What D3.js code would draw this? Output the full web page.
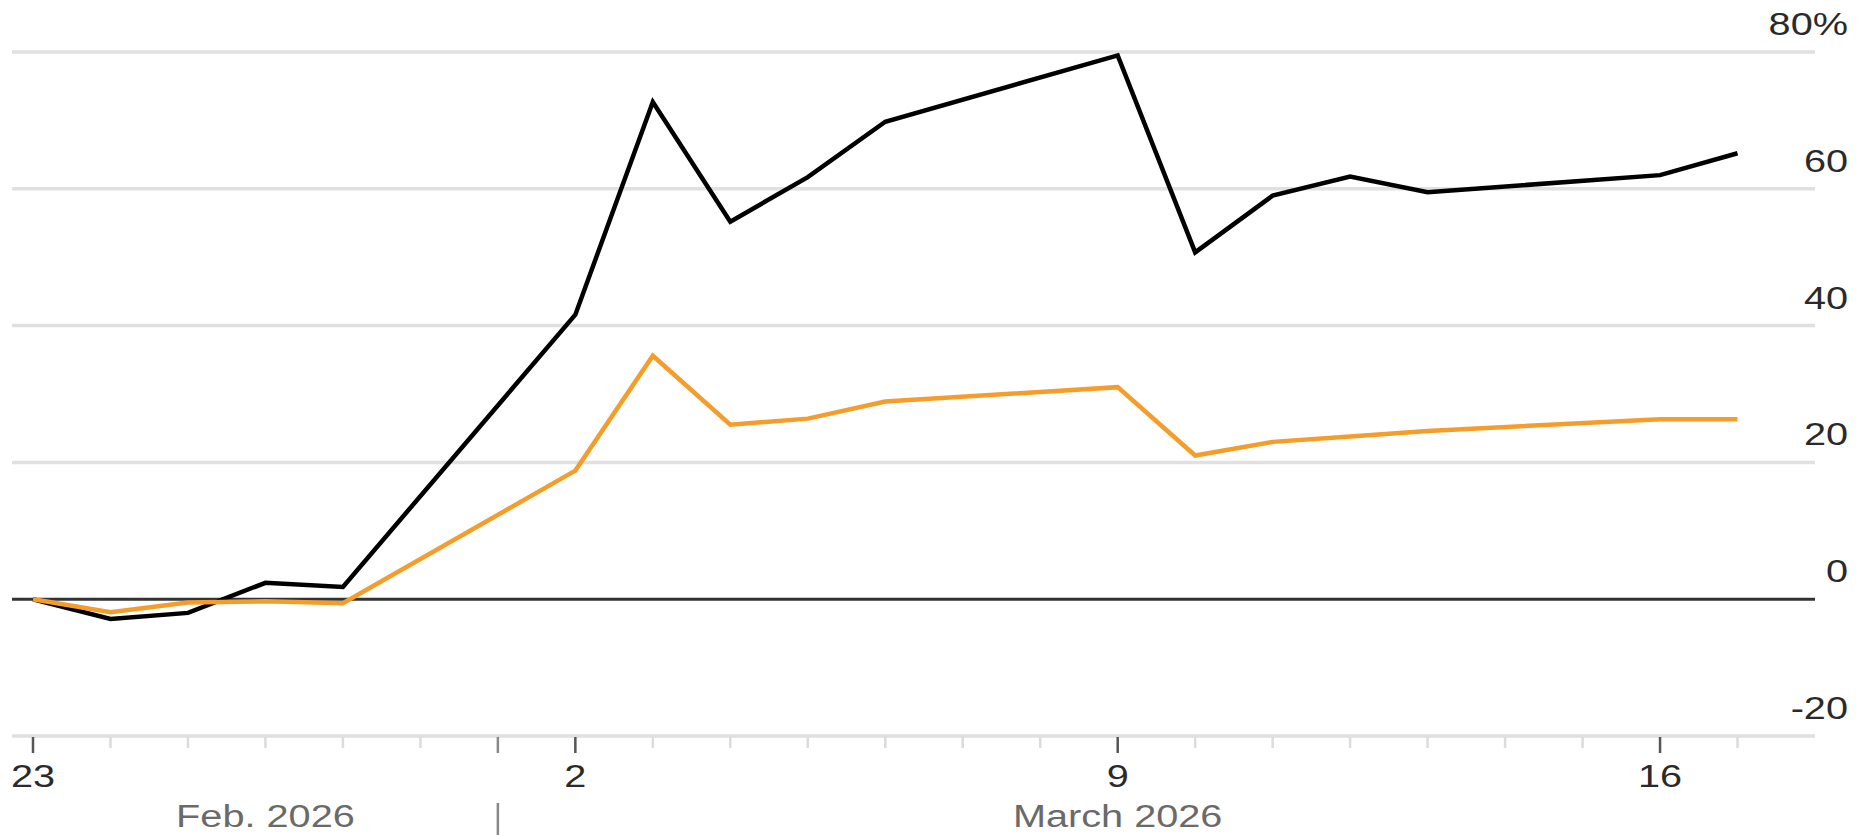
<!DOCTYPE html>
<html><head><meta charset="utf-8">
<script src="https://cdn.jsdelivr.net/npm/d3@7"></script>
<style>
body{margin:0;background:#fff}
svg{display:block}
text{font-family:"Liberation Sans",Arial,Helvetica,sans-serif}
</style>
</head><body>
<svg id="c" width="1863" height="835"></svg>
<script>
// ---- data ----
const dates = ["2026-02-23","2026-02-24","2026-02-25","2026-02-26","2026-02-27",
  "2026-03-02","2026-03-03","2026-03-04","2026-03-05","2026-03-06",
  "2026-03-09","2026-03-10","2026-03-11","2026-03-12","2026-03-13",
  "2026-03-16","2026-03-17"];
const blackSeries  = [0,-2.9,-2.0,2.4,1.8, 41.6,72.7,55.2,61.7,69.8, 79.5,50.7,59.0,61.8,59.5, 62.0,65.2];
const orangeSeries = [0,-1.9,-0.5,-0.3,-0.6, 18.8,35.6,25.5,26.4,28.9, 31.0,21.0,23.0,23.8,24.6, 26.3,26.3];
const yTicks = [-20,0,20,40,60,80];
const yTickLabels = ["-20","0","20","40","60","80%"];
const xMajorTicks = ["2026-02-23","2026-03-02","2026-03-09","2026-03-16"];
const xMajorLabels = ["23","2","9","16"];
const monthLabels = ["Feb. 2026","March 2026"];
const monthStarts = ["2026-02-23","2026-03-01"];
const monthEnds = ["2026-03-01","2026-03-17"];
const monthBoundary = "2026-03-01";
const axisStart = "2026-02-23", axisEnd = "2026-03-18", lastTick = "2026-03-17";

// ---- setup ----
const P = d3.utcParse("%Y-%m-%d");
const SX = 1.28; // horizontal stretch of text
const svg = d3.select("#c");
const x = d3.scaleUtc().domain([P(axisStart), P(axisEnd)]).range([33, 1815]);
const y = d3.scaleLinear().domain([-20, 80]).range([736, 52]);
const gridLeft = 12, gridRight = 1815;

// gridlines
svg.append("g").selectAll("line").data(yTicks.filter(v => v !== 0)).join("line")
  .attr("x1", gridLeft).attr("x2", gridRight)
  .attr("y1", d => y(d)).attr("y2", d => y(d))
  .attr("stroke", "#e0e0e0").attr("stroke-width", 3.5);

// y labels
svg.append("g").selectAll("text").data(yTicks).join("text")
  .attr("transform", d => `translate(1848,${y(d) - 17}) scale(${SX},1)`)
  .attr("text-anchor", "end")
  .attr("font-size", 31)
  .attr("fill", "#2a2a2a")
  .text((d, i) => yTickLabels[i]);

// x ticks
const allDays = d3.utcDay.range(P(axisStart), d3.utcDay.offset(P(lastTick), 1));
const majorSet = new Set(xMajorTicks);
const fmt = d3.utcFormat("%Y-%m-%d");
svg.append("g").selectAll("line").data(allDays).join("line")
  .attr("x1", d => x(d)).attr("x2", d => x(d))
  .attr("y1", 737)
  .attr("y2", d => majorSet.has(fmt(d)) || fmt(d) === monthBoundary ? 753 : 748)
  .attr("stroke", d => majorSet.has(fmt(d)) ? "#555" : (fmt(d) === monthBoundary ? "#888" : "#dcdcdc"))
  .attr("stroke-width", 2.5);

svg.append("g").selectAll("text").data(xMajorTicks).join("text")
  .attr("transform", d => `translate(${x(P(d))},787) scale(${SX},1)`)
  .attr("text-anchor", "middle")
  .attr("font-size", 31)
  .attr("fill", "#2a2a2a")
  .text((d, i) => xMajorLabels[i]);

// month separator & labels
svg.append("line")
  .attr("x1", x(P(monthBoundary))).attr("x2", x(P(monthBoundary)))
  .attr("y1", 803).attr("y2", 835)
  .attr("stroke", "#888").attr("stroke-width", 2.5);
svg.append("g").selectAll("text").data(monthLabels).join("text")
  .attr("transform", (d, i) => `translate(${(x(P(monthStarts[i])) + x(P(monthEnds[i]))) / 2},827) scale(${SX},1)`)
  .attr("text-anchor", "middle")
  .attr("font-size", 31)
  .attr("fill", "#6a6a6a")
  .text(d => d);

// zero line
svg.append("line")
  .attr("x1", gridLeft).attr("x2", gridRight)
  .attr("y1", y(0)).attr("y2", y(0))
  .attr("stroke", "#333").attr("stroke-width", 3);

// series lines
const line = d3.line().x((d, i) => x(P(dates[i]))).y(d => y(d));
svg.append("path").datum(blackSeries)
  .attr("d", line).attr("fill", "none")
  .attr("stroke", "#000").attr("stroke-width", 4.5)
  .attr("stroke-linejoin", "miter");
svg.append("path").datum(orangeSeries)
  .attr("d", line).attr("fill", "none")
  .attr("stroke", "#f59d2a").attr("stroke-width", 4.5)
  .attr("stroke-linejoin", "miter");
</script>
</body></html>
